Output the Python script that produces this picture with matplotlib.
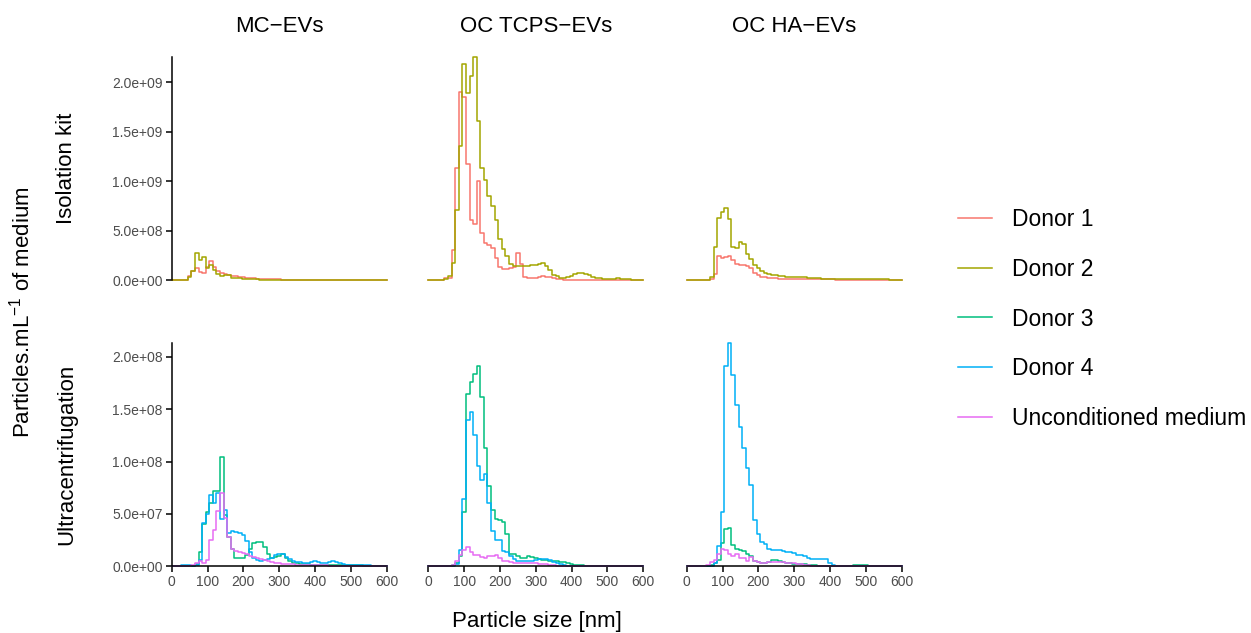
import numpy as np
import matplotlib
matplotlib.use('agg')
import matplotlib.pyplot as plt
from matplotlib.lines import Line2D
from matplotlib.ticker import FuncFormatter, MultipleLocator

plt.rcParams['font.family'] = ['Liberation Sans', 'DejaVu Sans']
plt.rcParams['mathtext.default'] = 'regular'

# NTA size distributions, 10 nm bins from 0 to 600 nm
size = np.arange(0, 601, 10)

columns = ['MC\u2212EVs', 'OC TCPS\u2212EVs', 'OC HA\u2212EVs']
rows = ['Isolation kit', 'Ultracentrifugation']
series_names = ['Donor 1', 'Donor 2', 'Donor 3', 'Donor 4', 'Unconditioned medium']
series_colors = ['#F8766D', '#A3A500', '#00BF7D', '#00B0F6', '#E76BF3']

# isolation kit, particles per mL (x 1e9)
kit_scale = 1e9
kit_mc_d1 = [0, 0, 0, 0, 0.005, 0.04, 0.09, 0.12, 0.08, 0.07,
             0.13, 0.19, 0.13, 0.09, 0.07, 0.06, 0.05, 0.045, 0.04, 0.035,
             0.03, 0.025, 0.02, 0.02, 0.015, 0.015, 0.012, 0.012, 0.01, 0.01,
             0.009, 0.008, 0.008, 0.007, 0.007, 0.007, 0.006, 0.006, 0.006, 0.006,
             0.005, 0.005, 0.005, 0.005, 0.005, 0.004, 0.004, 0.004, 0.004, 0.004,
             0.003, 0.003, 0.003, 0.003, 0.003, 0.003, 0.002, 0.002, 0.002, 0.002,
             0.002]
kit_mc_d2 = [0, 0, 0, 0, 0.005, 0.03, 0.09, 0.28, 0.20, 0.24,
             0.12, 0.15, 0.10, 0.06, 0.045, 0.05, 0.05, 0.025, 0.02, 0.025,
             0.015, 0.01, 0.01, 0.009, 0.009, 0.008, 0.008, 0.008, 0.007, 0.007,
             0.007, 0.006, 0.006, 0.006, 0.005, 0.005, 0.005, 0.005, 0.004, 0.004,
             0.004, 0.004, 0.004, 0.003, 0.003, 0.003, 0.003, 0.003, 0.003, 0.003,
             0.002, 0.002, 0.002, 0.002, 0.002, 0.002, 0.002, 0.002, 0.002, 0.001,
             0.001]
kit_tcps_d1 = [0, 0, 0, 0, 0, 0.02, 0.02, 0.31, 1.13, 1.90,
               1.85, 1.17, 0.61, 0.57, 1.00, 0.48, 0.38, 0.36, 0.33, 0.22,
               0.13, 0.11, 0.11, 0.12, 0.13, 0.28, 0.16, 0.03, 0.02, 0.02,
               0.025, 0.035, 0.04, 0.035, 0.03, 0.02, 0.015, 0.01, 0.008, 0.006,
               0.005, 0.004, 0.004, 0.003, 0.003, 0.003, 0.002, 0.002, 0.002, 0.002,
               0.002, 0.002, 0.001, 0.001, 0.001, 0.001, 0.001, 0.001, 0.001, 0.001,
               0.001]
kit_tcps_d2 = [0, 0, 0, 0, 0, 0.01, 0.04, 0.17, 0.71, 1.35,
               2.18, 1.89, 2.06, 2.25, 1.61, 1.13, 1.01, 0.85, 0.75, 0.61,
               0.42, 0.32, 0.25, 0.165, 0.14, 0.14, 0.14, 0.14, 0.145, 0.15,
               0.15, 0.16, 0.17, 0.14, 0.10, 0.055, 0.04, 0.025, 0.02, 0.03,
               0.045, 0.06, 0.07, 0.072, 0.065, 0.05, 0.035, 0.025, 0.02, 0.018,
               0.015, 0.015, 0.017, 0.02, 0.018, 0.015, 0.01, 0.008, 0.005, 0.003,
               0.002]
kit_ha_d1 = [0, 0, 0, 0, 0, 0, 0, 0.01, 0.06, 0.25,
             0.22, 0.24, 0.25, 0.20, 0.16, 0.15, 0.15, 0.14, 0.12, 0.075,
             0.05, 0.035, 0.03, 0.025, 0.02, 0.02, 0.018, 0.016, 0.015, 0.015,
             0.014, 0.013, 0.012, 0.012, 0.011, 0.011, 0.01, 0.01, 0.01, 0.009,
             0.009, 0.009, 0.008, 0.008, 0.008, 0.007, 0.007, 0.007, 0.006, 0.006,
             0.006, 0.005, 0.005, 0.005, 0.005, 0.004, 0.004, 0.004, 0.004, 0.003,
             0.003]
kit_ha_d2 = [0, 0, 0, 0, 0, 0, 0, 0.035, 0.34, 0.63,
             0.69, 0.73, 0.62, 0.34, 0.33, 0.39, 0.37, 0.27, 0.21, 0.15,
             0.12, 0.09, 0.075, 0.065, 0.055, 0.05, 0.045, 0.04, 0.035, 0.035,
             0.035, 0.035, 0.03, 0.03, 0.028, 0.025, 0.022, 0.02, 0.018, 0.016,
             0.015, 0.015, 0.014, 0.014, 0.013, 0.013, 0.012, 0.012, 0.012, 0.011,
             0.011, 0.01, 0.01, 0.01, 0.009, 0.009, 0.009, 0.008, 0.008, 0.008,
             0.007]

# ultracentrifugation, particles per mL (x 1e8)
uc_scale = 1e8
uc_mc_d3 = [0, 0, 0, 0, 0, 0, 0, 0.02, 0.14, 0.40,
            0.52, 0.60, 0.72, 0.72, 1.04, 0.49, 0.28, 0.17, 0.08, 0.08,
            0.08, 0.11, 0.17, 0.22, 0.23, 0.23, 0.18, 0.12, 0.08, 0.09,
            0.10, 0.12, 0.08, 0.05, 0.03, 0.03, 0.025, 0.02, 0.02, 0.015,
            0.015, 0.012, 0.01, 0.01, 0.01, 0.009, 0.009, 0.008, 0.008, 0.008,
            0.008, 0.008, 0.008, 0.008, 0.007, 0.006, 0.005, 0.004, 0.003, 0.002,
            0.002]
uc_mc_d4 = [0, 0, 0, 0.01, 0.015, 0.01, 0.005, 0.01, 0.06, 0.41,
            0.50, 0.68, 0.60, 0.70, 0.45, 0.54, 0.32, 0.34, 0.33, 0.32,
            0.30, 0.24, 0.14, 0.08, 0.06, 0.05, 0.06, 0.07, 0.08, 0.11,
            0.12, 0.12, 0.09, 0.07, 0.05, 0.04, 0.04, 0.035, 0.03, 0.04,
            0.05, 0.04, 0.03, 0.035, 0.045, 0.05, 0.04, 0.03, 0.02, 0.015,
            0.012, 0.01, 0.01, 0.008, 0.01, 0.008, 0.005, 0.003, 0.002, 0.001,
            0]
uc_mc_unc = [0, 0, 0, 0, 0, 0.005, 0.01, 0.03, 0.05, 0.03,
             0.06, 0.25, 0.35, 0.53, 0.70, 0.46, 0.28, 0.17, 0.15, 0.14,
             0.13, 0.12, 0.10, 0.09, 0.08, 0.07, 0.06, 0.05, 0.045, 0.035,
             0.03, 0.025, 0.02, 0.02, 0.018, 0.016, 0.015, 0.014, 0.012, 0.01,
             0.01, 0.009, 0.008, 0.008, 0.007, 0.007, 0.006, 0.006, 0.005, 0.005,
             0.005, 0.004, 0.004, 0.004, 0.003, 0.003, 0.003, 0.002, 0.002, 0.002,
             0.001]
uc_tcps_d3 = [0, 0, 0, 0, 0, 0, 0, 0.01, 0.03, 0.10,
              0.52, 1.65, 1.76, 1.84, 1.91, 1.62, 1.13, 0.77, 0.54, 0.45,
              0.44, 0.42, 0.31, 0.12, 0.12, 0.10, 0.08, 0.08, 0.10, 0.09,
              0.08, 0.07, 0.06, 0.06, 0.055, 0.05, 0.05, 0.045, 0.04, 0.03,
              0.02, 0.015, 0.01, 0.008, 0.006, 0.005, 0.005, 0.004, 0.004, 0.003,
              0.003, 0.003, 0.002, 0.002, 0.002, 0.002, 0.001, 0.001, 0.001, 0.001,
              0.001]
uc_tcps_d4 = [0, 0, 0, 0, 0, 0, 0, 0, 0.02, 0.16,
              0.64, 1.40, 1.47, 1.25, 0.96, 0.82, 0.88, 0.60, 0.34, 0.25,
              0.25, 0.15, 0.14, 0.10, 0.07, 0.05, 0.05, 0.05, 0.05, 0.05,
              0.06, 0.07, 0.07, 0.07, 0.06, 0.04, 0.03, 0.02, 0.01, 0.005,
              0.003, 0.002, 0.002, 0.002, 0.001, 0.001, 0.001, 0.001, 0.001, 0.001,
              0.001, 0.001, 0.001, 0.001, 0.001, 0.001, 0.001, 0.001, 0.001, 0.001,
              0.001]
uc_tcps_unc = [0, 0, 0, 0, 0, 0, 0, 0.01, 0.05, 0.11,
               0.16, 0.18, 0.14, 0.11, 0.11, 0.09, 0.08, 0.10, 0.10, 0.11,
               0.08, 0.05, 0.05, 0.04, 0.035, 0.03, 0.035, 0.035, 0.035, 0.03,
               0.03, 0.025, 0.02, 0.02, 0.015, 0.01, 0.005, 0.003, 0.002, 0.002,
               0.001, 0.001, 0.001, 0.001, 0.001, 0.001, 0.001, 0.001, 0.001, 0.001,
               0, 0, 0, 0, 0, 0, 0, 0, 0, 0,
               0]
uc_ha_d3 = [0, 0, 0, 0, 0, 0, 0, 0.01, 0.03, 0.06,
            0.22, 0.36, 0.37, 0.20, 0.17, 0.16, 0.15, 0.12, 0.10, 0.05,
            0.04, 0.03, 0.03, 0.04, 0.06, 0.06, 0.05, 0.04, 0.03, 0.03,
            0.025, 0.025, 0.025, 0.02, 0.015, 0.01, 0.008, 0.006, 0.005, 0.005,
            0.004, 0.004, 0.004, 0.004, 0.004, 0.005, 0.006, 0.008, 0.01, 0.01,
            0.008, 0.005, 0.004, 0.003, 0.003, 0.002, 0.002, 0.002, 0.001, 0.001,
            0.001]
uc_ha_d4 = [0, 0, 0, 0, 0, 0, 0, 0, 0.03, 0.19,
            0.52, 1.91, 2.13, 1.83, 1.54, 1.33, 1.13, 0.94, 0.78, 0.44,
            0.31, 0.23, 0.21, 0.17, 0.16, 0.16, 0.16, 0.15, 0.14, 0.14,
            0.13, 0.11, 0.11, 0.10, 0.08, 0.07, 0.065, 0.065, 0.07, 0.07,
            0.03, 0.01, 0.005, 0.003, 0.002, 0.002, 0.002, 0.002, 0.002, 0.003,
            0.003, 0.002, 0.002, 0.002, 0.001, 0.001, 0.001, 0.001, 0.001, 0.001,
            0.001]
uc_ha_unc = [0, 0, 0, 0, 0, 0, 0.01, 0.04, 0.06, 0.12,
             0.17, 0.16, 0.12, 0.10, 0.12, 0.08, 0.08, 0.05, 0.09, 0.05,
             0.04, 0.035, 0.035, 0.04, 0.045, 0.045, 0.04, 0.04, 0.035, 0.03,
             0.03, 0.025, 0.02, 0.015, 0.01, 0.005, 0.003, 0.002, 0.002, 0.001,
             0.001, 0.001, 0.001, 0.001, 0.001, 0, 0, 0, 0, 0,
             0, 0, 0, 0, 0, 0, 0, 0, 0, 0,
             0]

# (series index, values) for each facet
panels = [
    [[(0, kit_mc_d1), (1, kit_mc_d2)],
     [(0, kit_tcps_d1), (1, kit_tcps_d2)],
     [(0, kit_ha_d1), (1, kit_ha_d2)]],
    [[(2, uc_mc_d3), (3, uc_mc_d4), (4, uc_mc_unc)],
     [(2, uc_tcps_d3), (3, uc_tcps_d4), (4, uc_tcps_unc)],
     [(2, uc_ha_d3), (3, uc_ha_d4), (4, uc_ha_unc)]],
]
row_scale = [kit_scale, uc_scale]
row_step = [5e8, 5e7]

W, H = 1251, 633
fig = plt.figure(figsize=(W / 100, H / 100), dpi=100)

col_left = [171.7, 428.3, 686.7]
panel_w = 215.0
row_top = [57.3, 343.3]
panel_h = 223.0
tick_col = '#4D4D4D'

for r in range(2):
    ymax = max(max(v) for col in panels[r] for _, v in col) * row_scale[r]
    for c in range(3):
        ax = fig.add_axes([col_left[c] / W, 1 - (row_top[r] + panel_h) / H,
                           panel_w / W, panel_h / H])
        for k, vals in panels[r][c]:
            ax.step(size, np.array(vals) * row_scale[r], where='mid',
                    color=series_colors[k], lw=1.1, clip_on=False)
        ax.set_xlim(0, 600)
        ax.set_ylim(0, ymax)
        ax.xaxis.set_major_locator(MultipleLocator(100))
        ax.yaxis.set_major_locator(MultipleLocator(row_step[r]))
        ax.yaxis.set_major_formatter(FuncFormatter(lambda v, p: f'{v:.1e}'))
        for s in ['top', 'right']:
            ax.spines[s].set_visible(False)
        ax.spines['left'].set_linewidth(1.1)
        ax.spines['bottom'].set_linewidth(1.1)
        ax.tick_params(length=4.5, width=1.1, color='black', labelcolor=tick_col,
                       labelsize=10, pad=2)
        if c > 0:
            ax.spines['left'].set_visible(False)
            ax.tick_params(axis='y', left=False, labelleft=False)
        if r == 0:
            ax.spines['bottom'].set_visible(False)
            ax.tick_params(axis='x', bottom=False, labelbottom=False)

# facet strips
for c in range(3):
    fig.text((col_left[c] + panel_w / 2) / W, 1 - 26 / H, columns[c],
             ha='center', va='center', fontsize=16)
for r in range(2):
    fig.text(67 / W, 1 - (row_top[r] + panel_h / 2) / H, rows[r],
             ha='center', va='center', rotation=90, fontsize=16)

fig.text(22 / W, 1 - 312 / H, 'Particles.mL$^{-1}$ of medium',
         ha='center', va='center', rotation=90, fontsize=16)
fig.text(536.7 / W, 1 - 621 / H, 'Particle size [nm]',
         ha='center', va='center', fontsize=16)

handles = [Line2D([], [], color=col, lw=1.1) for col in series_colors]
fig.legend(handles, series_names, loc='center left',
           bbox_to_anchor=(958 / W, 1 - 319 / H), frameon=False,
           fontsize=16.5, handlelength=1.5, handletextpad=0.85,
           labelspacing=1.17, borderpad=0, borderaxespad=0)

fig.savefig('out.png', dpi=100)
